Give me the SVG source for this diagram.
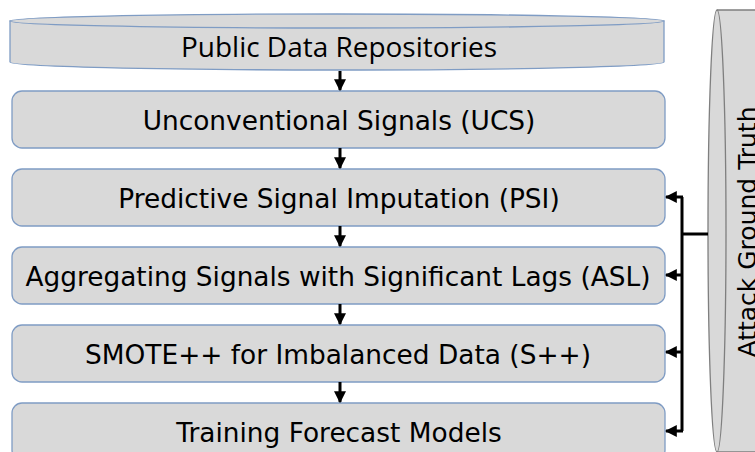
<svg xmlns="http://www.w3.org/2000/svg" width="755" height="452" viewBox="0 0 755 452">
<defs>
<style>
.box{fill:#d9d9d9;stroke:#7f9cc4;stroke-width:1.3}
.cyl{fill:#d9d9d9;stroke:#7f7f7f;stroke-width:1.3}
.t{font-family:"DejaVu Sans",Verdana,sans-serif;font-size:26.4px;fill:#000;text-anchor:middle}
.c{fill:none;stroke:#000;stroke-width:3}
</style>
<marker id="ah" viewBox="0 0 10 10" refX="9" refY="5" markerWidth="4" markerHeight="4" orient="auto" markerUnits="strokeWidth">
<path d="M0,0 L10,5 L0,10 z" fill="#000"/>
</marker>
</defs>
<rect width="755" height="452" fill="#fff"/>
<g id="attack-ground-truth">
<path class="cyl" d="M717,10 L770,10 L770,452 L717,452 A9,221 0 0 1 717,10 Z"/>
<path class="cyl" d="M717,10 A9,221 0 0 1 717,452" fill="none"/>
<text class="t" transform="translate(756,232) rotate(-90)" style="font-size:25px">Attack Ground Truth</text>
</g>
<g id="public-data">
<path class="box" d="M10,21 L10,62 A327,8 0 0 0 664,62 L664,21 Z"/>
<ellipse class="box" cx="337" cy="21" rx="327" ry="7"/>
<text x="339" y="57" style="font-family:'Open Sans','Liberation Sans',sans-serif;font-size:27px;text-anchor:middle" textLength="316" lengthAdjust="spacingAndGlyphs">Public Data Repositories</text>
</g>
<g id="ucs">
<rect class="box" x="12" y="91" width="653" height="57" rx="10"/>
<text class="t" x="339" y="130">Unconventional Signals (UCS)</text>
</g>
<g id="psi">
<rect class="box" x="12" y="169" width="653" height="57" rx="10"/>
<text class="t" x="339" y="208">Predictive Signal Imputation (PSI)</text>
</g>
<g id="asl">
<rect class="box" x="12" y="247" width="653" height="57" rx="10"/>
<text class="t" x="338" y="286" textLength="625" lengthAdjust="spacingAndGlyphs">Aggregating Signals with Significant Lags (ASL)</text>
</g>
<g id="smote">
<rect class="box" x="12" y="325" width="653" height="57" rx="10"/>
<text class="t" x="338" y="364">SMOTE++ for Imbalanced Data (S++)</text>
</g>
<g id="training">
<rect class="box" x="12" y="403" width="653" height="57" rx="10"/>
<text class="t" x="339" y="442">Training Forecast Models</text>
</g>
<g id="connectors">
<line class="c" x1="340" y1="71" x2="340" y2="90" marker-end="url(#ah)"/>
<line class="c" x1="340" y1="148" x2="340" y2="168" marker-end="url(#ah)"/>
<line class="c" x1="340" y1="226" x2="340" y2="246" marker-end="url(#ah)"/>
<line class="c" x1="340" y1="304" x2="340" y2="324" marker-end="url(#ah)"/>
<line class="c" x1="340" y1="382" x2="340" y2="402" marker-end="url(#ah)"/>
<line class="c" x1="708" y1="234" x2="682" y2="234"/>
<polyline class="c" points="682,197 682,431"/>
<line class="c" x1="683" y1="197" x2="666" y2="197" marker-end="url(#ah)"/>
<line class="c" x1="683" y1="275" x2="666" y2="275" marker-end="url(#ah)"/>
<line class="c" x1="683" y1="352" x2="666" y2="352" marker-end="url(#ah)"/>
<line class="c" x1="683" y1="431" x2="666" y2="431" marker-end="url(#ah)"/>
</g>
</svg>
